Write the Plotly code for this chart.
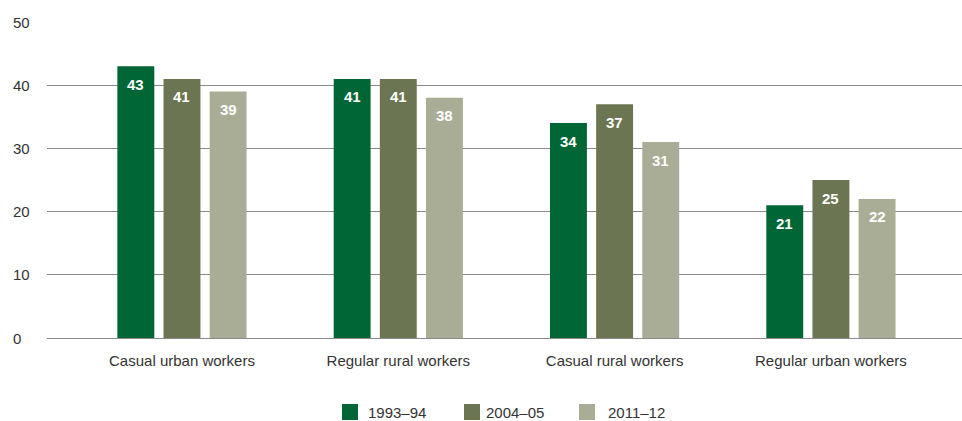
import plotly.graph_objects as go

# Worker categories and the three survey rounds
categories = ["Casual urban workers", "Regular rural workers",
              "Casual rural workers", "Regular urban workers"]
periods = ["1993–94", "2004–05", "2011–12"]

# Values per survey round (one list per round, in category order)
values_1993 = [43, 41, 34, 21]
values_2004 = [41, 41, 37, 25]
values_2011 = [39, 38, 31, 22]

y_ticks = [0, 10, 20, 30, 40, 50]

colors = ["#006635", "#6b7551", "#aaad96"]
series = [values_1993, values_2004, values_2011]

W, H = 962, 421
M_L, M_R, M_T, M_B = 47, 0, 22, 83
PLOT_W = W - M_L - M_R
PLOT_H = H - M_T - M_B

BARGAP = 0.36
GROUPGAP = 0.2
FONT = "Liberation Sans, Arial, sans-serif"
TEXT_COLOR = "#333333"
GRID_COLOR = "#8a8a8a"


def px_to_paper_x(px):
    return (px - M_L) / PLOT_W


def px_to_paper_y(py):
    return (H - M_B - py) / PLOT_H


fig = go.Figure()

for name, vals, col in zip(periods, series, colors):
    fig.add_trace(go.Bar(
        x=categories, y=vals, name=name,
        marker=dict(color=col, line=dict(width=0)),
        showlegend=False, hoverinfo="skip",
    ))

# Value labels inside the top of each bar
slot = (1 - BARGAP) / len(series)
annotations = []
for i, vals in enumerate(series):
    offset = (i - (len(series) - 1) / 2) * slot
    for j, v in enumerate(vals):
        annotations.append(dict(
            x=j + offset, y=v, xref="x", yref="y",
            text=f"<b>{v}</b>", showarrow=False,
            yanchor="middle", yshift=-18,
            font=dict(family=FONT, size=15, color="white"),
        ))

# Left-aligned y tick labels
for t in y_ticks:
    annotations.append(dict(
        x=px_to_paper_x(11), y=t, xref="paper", yref="y",
        text=str(t), showarrow=False, xanchor="left", yanchor="middle",
        font=dict(family=FONT, size=15, color=TEXT_COLOR),
    ))

# Legend row below the axis: square swatch followed by the period label
shapes = []
legend_swatch_left = [342, 464, 579]
legend_text_left = [366, 484, 606]
SW = 16
legend_mid = 412
for name, col, sx, tx in zip(periods, colors, legend_swatch_left, legend_text_left):
    shapes.append(dict(
        type="rect", xref="paper", yref="paper",
        x0=px_to_paper_x(sx), x1=px_to_paper_x(sx + SW),
        y0=px_to_paper_y(legend_mid - SW / 2), y1=px_to_paper_y(legend_mid + SW / 2),
        fillcolor=col, line=dict(width=0),
    ))
    annotations.append(dict(
        x=px_to_paper_x(tx), y=px_to_paper_y(legend_mid), xref="paper", yref="paper",
        text=name, showarrow=False, xanchor="left", yanchor="middle",
        font=dict(family=FONT, size=15, color=TEXT_COLOR),
    ))

fig.update_layout(
    width=W, height=H,
    margin=dict(l=M_L, r=M_R, t=M_T, b=M_B),
    paper_bgcolor="white", plot_bgcolor="white",
    barmode="group", bargap=BARGAP, bargroupgap=GROUPGAP,
    font=dict(family=FONT, size=15, color=TEXT_COLOR),
    annotations=annotations, shapes=shapes,
    showlegend=False,
    hovermode=False,
)

fig.update_xaxes(
    range=[-0.624, 3.606], showgrid=False, zeroline=False, showline=False,
    ticks="", ticklabelstandoff=12,
    tickfont=dict(family=FONT, size=15, color=TEXT_COLOR),
)
fig.update_yaxes(
    range=[0, 50], tickvals=y_ticks, showticklabels=False,
    showgrid=True, gridcolor=GRID_COLOR, gridwidth=1.3,
    zeroline=True, zerolinecolor=GRID_COLOR, zerolinewidth=1.3,
    showline=False, ticks="",
)

fig.write_html("out.html")
